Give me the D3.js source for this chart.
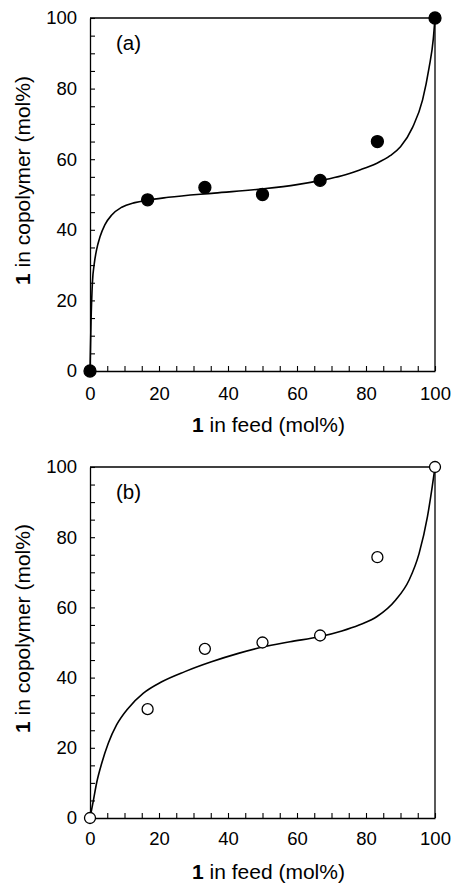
<!DOCTYPE html>
<html>
<head>
<meta charset="utf-8">
<script src="https://cdn.jsdelivr.net/npm/d3@7"></script>
<style>
  body { margin: 0; background: #fff; }
  svg { display: block; }
  text { font-family: "Liberation Sans", Arial, Helvetica, sans-serif; fill: #000; }
</style>
</head>
<body>
<div id="chart"></div>
<script>
var W = 452, H = 884;

// tick values (every 5, labelled every 20)
const tickVals = d3.range(0, 101, 5);
const labelVals = [0, 20, 40, 60, 80, 100];

// feed composition of the samples (mol% of 1)
const feed = [0, 16.7, 33.3, 50, 66.7, 83.3, 100];

// panel (a): measured copolymer composition
const copolyA = [0, 48.5, 52, 50, 54, 65, 100];
// panel (a): fitted curve
const curveAx = [0, 0.3, 0.7, 1.25, 1.9, 2.9, 4.3, 6.3, 9.2, 13, 16.5, 22.7, 36, 50, 60, 67, 73, 78, 83, 87, 90, 93.5, 96.4, 98.3, 99.5, 100];
const curveAy = [0, 14, 25, 30.5, 34.3, 38, 41.4, 44.2, 46.4, 47.7, 48.4, 49.2, 50.4, 51.6, 52.8, 54, 55.3, 56.9, 58.8, 61, 63.5, 69, 76.8, 86, 94, 100];

// panel (b): measured copolymer composition
const copolyB = [0, 31, 48.2, 50, 52, 74.3, 100];
// panel (b): fitted curve
const curveBx = [0, 1, 1.9, 3.4, 5.3, 7.7, 11.1, 15.4, 20.8, 27.5, 35.2, 43, 50, 58, 66.7, 73, 78, 83.2, 88.6, 92.5, 95.4, 97.8, 99.2, 100];
const curveBy = [0, 5.1, 9.9, 15.6, 21.3, 26.5, 31.3, 35.5, 38.8, 41.7, 44.5, 46.9, 48.7, 50.2, 51.7, 53.3, 55, 57.4, 62.1, 67.8, 75.4, 85.8, 94.4, 100];

const xTitle = "in feed (mol%)";
const yTitle = "in copolymer (mol%)";

var panels = [
  {label: "(a)", top: 18, bottom: 371, ys: copolyA, cx: curveAx, cy: curveAy, filled: true, labGap: 16},
  {label: "(b)", top: 467, bottom: 818, ys: copolyB, cx: curveBx, cy: curveBy, filled: false, labGap: 14}
];

var left = 90, right = 435;

var svg = d3.select("#chart").append("svg")
    .attr("width", W)
    .attr("height", H)
    .style("background-color", "#ffffff");

panels.forEach(function(p) {
  var x = d3.scaleLinear().domain([0, 100]).range([left, right]);
  var y = d3.scaleLinear().domain([0, 100]).range([p.bottom, p.top]);

  var g = svg.append("g");

  // frame top and right
  g.append("line")
      .attr("x1", x(0)).attr("x2", x(100))
      .attr("y1", y(100)).attr("y2", y(100))
      .attr("stroke", "#000").attr("stroke-width", 1.3);
  g.append("line")
      .attr("x1", x(100)).attr("x2", x(100))
      .attr("y1", y(0)).attr("y2", y(100))
      .attr("stroke", "#000").attr("stroke-width", 1.3);

  var xAxis = g.append("g")
      .attr("transform", "translate(0," + y(0) + ")")
      .call(d3.axisBottom(x)
        .tickValues(tickVals)
        .tickSizeInner(-5)
        .tickSizeOuter(0)
        .tickPadding(p.labGap)
        .tickFormat(d => labelVals.indexOf(d) >= 0 ? d : ""));

  var yAxis = g.append("g")
      .attr("transform", "translate(" + x(0) + ",0)")
      .call(d3.axisLeft(y)
        .tickValues(tickVals)
        .tickSizeInner(-5)
        .tickSizeOuter(0)
        .tickPadding(13)
        .tickFormat(d => labelVals.indexOf(d) >= 0 ? d : ""));

  [xAxis, yAxis].forEach(function(a) {
    a.attr("font-size", null).attr("font-family", null);
    a.select(".domain").attr("stroke-width", 1.3);
    a.selectAll(".tick line").attr("stroke-width", 1.1);
    a.selectAll(".tick text").style("font-size", "18.5px");
  });

  // fitted curve
  var pts = p.cx.map((v, i) => [v, p.cy[i]]);
  g.append("path")
      .datum(pts)
      .attr("fill", "none")
      .attr("stroke", "#000")
      .attr("stroke-width", 1.6)
      .attr("d", d3.line()
        .x(d => x(d[0]))
        .y(d => y(d[1]))
        .curve(d3.curveMonotoneX));

  // measured points
  g.selectAll("circle")
      .data(feed.map((v, i) => [v, p.ys[i]]))
      .enter().append("circle")
      .attr("cx", d => x(d[0]))
      .attr("cy", d => y(d[1]))
      .attr("r", p.filled ? 6 : 5.5)
      .attr("fill", p.filled ? "#000" : "#fff")
      .attr("stroke", "#000")
      .attr("stroke-width", 1.3);

  // panel label
  g.append("text")
      .attr("x", 116)
      .attr("y", p.top + 32)
      .style("font-size", "20.5px")
      .text(p.label);

  // x title
  var xt = g.append("text")
      .attr("x", (left + right) / 2 + 6)
      .attr("y", p.bottom + 61)
      .attr("text-anchor", "middle")
      .style("font-size", "21px");
  xt.append("tspan").style("font-weight", "bold").text("1");
  xt.append("tspan").text(" " + xTitle);

  // y title
  var yt = g.append("text")
      .attr("transform", "translate(30," + ((p.top + p.bottom) / 2 - 14) + ") rotate(-90)")
      .attr("text-anchor", "middle")
      .style("font-size", "21px");
  yt.append("tspan").style("font-weight", "bold").text("1");
  yt.append("tspan").text(" " + yTitle);
});
</script>
</body>
</html>
